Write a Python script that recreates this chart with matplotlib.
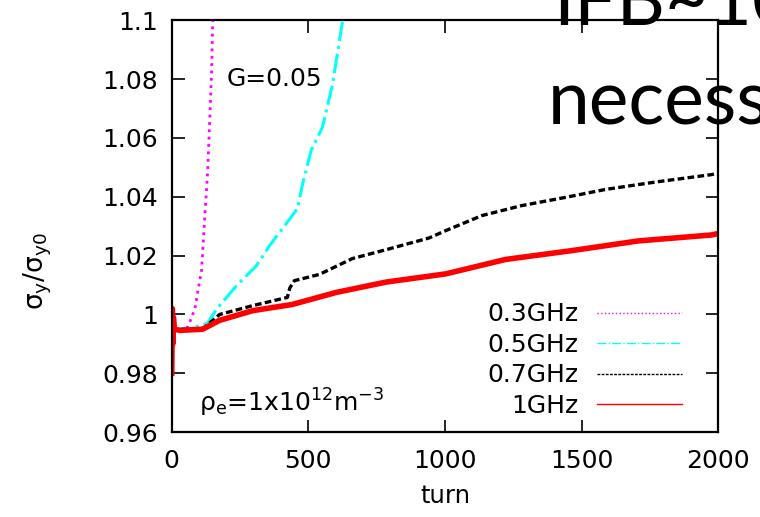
import numpy as np
import matplotlib
matplotlib.use('Agg')
import matplotlib.pyplot as plt

# values (turn, sigma_y/sigma_y0)
mag_turn = [0, 30, 58, 84, 109, 120, 131, 139, 146, 150]
mag_val = [0.995, 0.995, 0.9956, 1.0017, 1.015, 1.032, 1.048, 1.066, 1.083, 1.1]

cyan_turn = [0, 60, 131, 163, 237, 310, 358, 420, 460, 478, 511, 551, 588, 624, 635]
cyan_val = [0.995, 0.995, 0.997, 1.0017, 1.0098, 1.0166, 1.0234, 1.031, 1.036,
            1.044, 1.056, 1.0635, 1.078, 1.099, 1.1]

black_turn = [0, 30, 113, 175, 296, 423, 432, 449, 540, 661, 784, 942, 1003,
              1135, 1281, 1453, 1588, 1770, 1974, 2000]
black_val = [0.995, 0.995, 0.995, 1.0, 1.003, 1.0058, 1.009, 1.0115, 1.0136, 1.019,
             1.022, 1.026, 1.0285, 1.0336, 1.037, 1.040, 1.0425, 1.045, 1.0475, 1.048]

red_turn = [0, 2, 4, 6, 10, 29, 113, 175, 296, 441, 602, 784, 1003, 1222, 1464,
            1708, 1974, 2000]
red_val = [0.98, 1.002, 0.99, 0.999, 0.995, 0.9946, 0.995, 0.998, 1.0013, 1.0034,
           1.0075, 1.011, 1.0138, 1.0187, 1.0217, 1.025, 1.027, 1.0275]

labels = ['0.3GHz', '0.5GHz', '0.7GHz', '1GHz']
xticks = [0, 500, 1000, 1500, 2000]
yticks = [0.96, 0.98, 1.0, 1.02, 1.04, 1.06, 1.08, 1.1]
ytick_labels = ['0.96', '0.98', '1', '1.02', '1.04', '1.06', '1.08', '1.1']

plt.rcParams['font.family'] = 'DejaVu Sans'
plt.rcParams['font.size'] = 18

fig = plt.figure(figsize=(7.6, 5.17), dpi=100)
ax = fig.add_axes([0.226, 0.164, 0.719, 0.797])

ax.plot(mag_turn, mag_val, color='#ff00ff', ls=':', lw=2, label=labels[0])
ax.plot(cyan_turn, cyan_val, color='#00ffff', ls='-.', lw=2.2, label=labels[1])
ax.plot(black_turn, black_val, color='black', ls=(0, (2, 1)), lw=2.4, label=labels[2])
ax.plot(red_turn, red_val, color='#ff0000', ls='-', lw=4, label=labels[3])

ax.set_xlim(0, 2000)
ax.set_ylim(0.96, 1.1)
ax.set_xticks(xticks)
ax.set_yticks(yticks)
ax.set_yticklabels(ytick_labels)
ax.tick_params(direction='in', length=9, width=1.2, top=True, right=True, pad=12)
ax.tick_params(axis='y', pad=10)
for s in ax.spines.values():
    s.set_linewidth(1.6)

ax.set_xlabel('turn', fontsize=17.5)
ax.xaxis.set_label_coords(0.5, -0.125)
ax.set_ylabel(r'σ$_\mathrm{y}$/σ$_\mathrm{y0}$', fontsize=19)
ax.yaxis.set_label_coords(-0.215, 0.39)

ax.text(200, 1.08, 'G=0.05', ha='left', va='center')
ax.text(98, 0.967, r'ρ$_\mathrm{e}$=1x10$^{12}$m$^{-3}$', ha='left', va='baseline')

leg = ax.legend(loc='lower right', bbox_to_anchor=(0.934, 0.035), frameon=False,
                markerfirst=False, handlelength=3.4, handletextpad=0.75,
                labelspacing=0.26, borderpad=0, borderaxespad=0)
for h in leg.get_lines():
    h.set_linewidth(1.0)

# slide text overlapping the chart
fig.text(553 / 760, 1 - 26 / 517, 'IFB~100', fontsize=54, family='Lato',
         ha='left', va='baseline', zorder=10)
fig.text(548 / 760, 1 - 125 / 517, 'necessary', fontsize=54, family='Lato',
         ha='left', va='baseline', zorder=10)

plt.savefig('out.png', dpi=100)
